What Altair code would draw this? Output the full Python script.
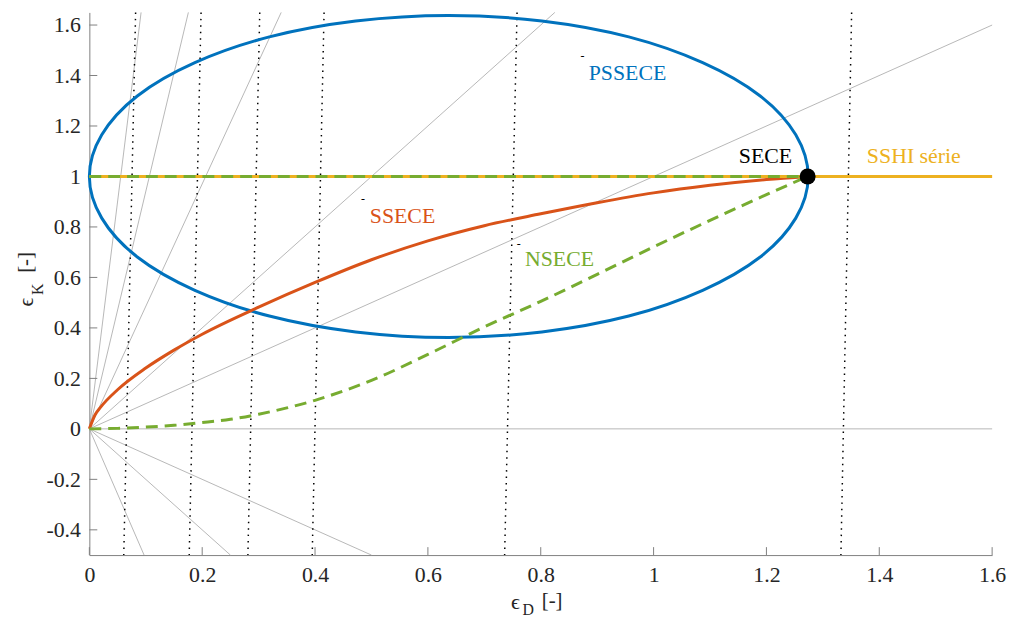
import altair as alt
import pandas as pd

# ---------------- data ----------------
x_ticks = [0, 0.2, 0.4, 0.6, 0.8, 1.0, 1.2, 1.4, 1.6]
y_ticks = [-0.4, -0.2, 0, 0.2, 0.4, 0.6, 0.8, 1.0, 1.2, 1.4, 1.6]
x_domain = [0, 1.6]
y_domain = [-0.5, 1.65]

# thin grey rays starting at the origin (end points)
ray_x_end = [0.0917, 0.1755, 0.340, 0.825, 1.6, 1.6, 0.5, 0.25, 0.097]
ray_y_end = [1.65, 1.65, 1.65, 1.65, 1.6, 0.0, -0.5, -0.5, -0.5]

# dotted (slightly slanted) lines: x at top and at bottom of the plot
dot_x_top = [0.082, 0.198, 0.302, 0.416, 0.758, 1.351]
dot_x_bottom = [0.061, 0.177, 0.281, 0.395, 0.736, 1.332]

# PSSECE closed curve
pss_x = [1.274, 1.252, 1.189, 1.087, 0.956, 0.802, 0.637, 0.472, 0.319, 0.187,
         0.085, 0.022, 0.000, 0.022, 0.085, 0.187, 0.319, 0.472, 0.637, 0.802,
         0.956, 1.087, 1.189, 1.252]
pss_y = [1.000, 1.165, 1.319, 1.451, 1.553, 1.616, 1.638, 1.616, 1.553, 1.451,
         1.319, 1.165, 1.000, 0.835, 0.681, 0.549, 0.447, 0.384, 0.362, 0.384,
         0.447, 0.549, 0.681, 0.835]

# SSECE curve
sse_x = [0, 0.01, 0.02, 0.05, 0.1, 0.15, 0.2, 0.3, 0.4, 0.5, 0.6, 0.7, 0.8, 0.9,
         1.0, 1.1, 1.2, 1.273]
sse_y = [0, 0.055, 0.086, 0.155, 0.241, 0.312, 0.375, 0.482, 0.58, 0.67, 0.745,
         0.805, 0.852, 0.896, 0.935, 0.965, 0.988, 1.0]

# NSECE curve
nse_x = [0, 0.05, 0.1, 0.15, 0.2, 0.25, 0.3, 0.35, 0.4, 0.45, 0.5, 0.6, 0.7,
         0.8, 0.9, 1.0, 1.1, 1.2, 1.273]
nse_y = [0, 0.002, 0.007, 0.014, 0.025, 0.038, 0.058, 0.083, 0.113, 0.15,
         0.192, 0.295, 0.404, 0.505, 0.612, 0.721, 0.826, 0.928, 1.0]

# horizontal segments at 1
sshi_x = [0, 1.6]
sshi_y = [1, 1]
nse_top_x = [0, 1.273]
nse_top_y = [1, 1]

# SECE point
sece_x = [1.273]
sece_y = [1.0]

# text annotations
lab_text = ["PSSECE", "SSECE", "NSECE", "SECE", "SSHI série"]
lab_x = [0.885, 0.497, 0.772, 1.151, 1.378]
lab_y = [1.411, 0.842, 0.673, 1.079, 1.079]
lab_color = ["#0072BD", "#D95319", "#77AC30", "#000000", "#EDB120"]

# tiny dash markers near labels
dash_x = [0.874, 0.485, 0.761]
dash_y = [1.482, 0.913, 0.736]

# ---------------- build tables ----------------
rays = []
for i, (xe, ye) in enumerate(zip(ray_x_end, ray_y_end)):
    rays.append({"g": i, "o": 0, "x": 0.0, "y": 0.0})
    rays.append({"g": i, "o": 1, "x": xe, "y": ye})
rays = pd.DataFrame(rays)

dots = []
for i, (xt_, xb_) in enumerate(zip(dot_x_top, dot_x_bottom)):
    dots.append({"g": i, "o": 0, "x": xt_, "y": y_domain[1]})
    dots.append({"g": i, "o": 1, "x": xb_, "y": y_domain[0]})
dots = pd.DataFrame(dots)

pss = pd.DataFrame({"x": pss_x, "y": pss_y, "o": list(range(len(pss_x)))})
sse = pd.DataFrame({"x": sse_x, "y": sse_y})
nse = pd.DataFrame({"x": nse_x, "y": nse_y})
sshi = pd.DataFrame({"x": sshi_x, "y": sshi_y})
nse_top = pd.DataFrame({"x": nse_top_x, "y": nse_top_y})
sece = pd.DataFrame({"x": sece_x, "y": sece_y})
labels = pd.DataFrame({"t": lab_text, "x": lab_x, "y": lab_y, "c": lab_color})
dashes = pd.DataFrame({"x": dash_x, "y": dash_y})
xt = pd.DataFrame({"x": x_ticks})
yt = pd.DataFrame({"y": y_ticks})

FONT = "Liberation Serif"
W, H = 910, 547
xs = alt.Scale(domain=x_domain, nice=False, zero=False)
ys = alt.Scale(domain=y_domain, nice=False, zero=False)

label_expr = "datum.value < 0 ? '-' + format(-datum.value, '~g') : format(datum.value, '~g')"

x_axis = alt.Axis(values=x_ticks, labelExpr=label_expr, title=None, grid=False,
                  tickSize=0, labelPadding=10, domainColor="#808080",
                  labelFont=FONT, labelFontSize=22, labelColor="#262626",
                  domainWidth=1, labelFlush=False, labelOverlap=False)
y_axis = alt.Axis(values=y_ticks, labelExpr=label_expr, title=None, grid=False,
                  tickSize=0, labelPadding=9, domainColor="#808080",
                  labelFont=FONT, labelFontSize=22, labelColor="#262626",
                  domainWidth=1, labelFlush=False, labelOverlap=False)

X = alt.X("x:Q", scale=xs, axis=x_axis)
Y = alt.Y("y:Q", scale=ys, axis=y_axis)

base_rays = alt.Chart(rays).mark_line(color="#a6a6a6", strokeWidth=0.8).encode(
    x=X, y=Y, detail="g:N", order="o:Q",
)

dotted = alt.Chart(dots).mark_line(color="#000000", strokeWidth=1.5,
                                   strokeDash=[1.5, 5]).encode(
    x=X, y=Y, detail="g:N", order="o:Q",
)

xtick_marks = alt.Chart(xt).mark_rule(color="#808080", strokeWidth=1).encode(
    x=X, y=alt.value(H), y2=alt.value(H - 8),
)
ytick_marks = alt.Chart(yt).mark_rule(color="#808080", strokeWidth=1).encode(
    y=Y, x=alt.value(0), x2=alt.value(8),
)

ellipse = alt.Chart(pss).mark_line(color="#0072BD", strokeWidth=3,
                                   interpolate="cardinal-closed").encode(
    x=X, y=Y, order="o:Q",
)

sse_line = alt.Chart(sse).mark_line(color="#D95319", strokeWidth=3,
                                    interpolate="monotone").encode(x=X, y=Y)

nse_line = alt.Chart(nse).mark_line(color="#77AC30", strokeWidth=3,
                                    strokeDash=[12, 7],
                                    interpolate="monotone").encode(x=X, y=Y)

sshi_line = alt.Chart(sshi).mark_line(color="#EDB120", strokeWidth=3).encode(x=X, y=Y)

nse_top_line = alt.Chart(nse_top).mark_line(color="#77AC30", strokeWidth=3,
                                            strokeDash=[12, 7]).encode(x=X, y=Y)

sece_pt = alt.Chart(sece).mark_point(filled=True, color="#000000", size=260,
                                     opacity=1).encode(x=X, y=Y)

label_marks = alt.Chart(labels).mark_text(font=FONT, fontSize=22, align="left",
                                          baseline="middle").encode(
    x=X, y=Y, text="t:N",
    color=alt.Color("c:N", scale=None, legend=None),
)

dash_marks = alt.Chart(dashes).mark_text(font=FONT, fontSize=12, text="-",
                                         color="#000000").encode(x=X, y=Y)

title_df = pd.DataFrame({"a": [0]})


def title_piece(txt, px, py, size, angle=0):
    return alt.Chart(title_df).mark_text(text=txt, font=FONT, fontSize=size,
                                         color="#262626", angle=angle,
                                         align="center", baseline="middle").encode(
        x=alt.value(px), y=alt.value(py))


titles = [
    title_piece("ϵ", 429.5, 594, 22),
    title_piece("D", 442.5, 602, 16),
    title_piece("[-]", 466.5, 593, 21),
    title_piece("ϵ", -64, 292, 22, 270),
    title_piece("K", -52, 279, 16, 270),
    title_piece("[-]", -64, 252, 21, 270),
]

chart = alt.layer(
    base_rays, dotted, xtick_marks, ytick_marks, ellipse, sse_line, nse_line,
    sshi_line, nse_top_line, sece_pt, label_marks, dash_marks, *titles
).properties(
    width=W, height=H,
    autosize=alt.AutoSizeParams(type="none"),
    padding={"left": 82, "top": 2, "right": 16, "bottom": 63},
    background="white",
).configure(font=FONT).configure_view(strokeWidth=0)

chart.save("out.html", embed_options={"renderer": "svg", "actions": False})
